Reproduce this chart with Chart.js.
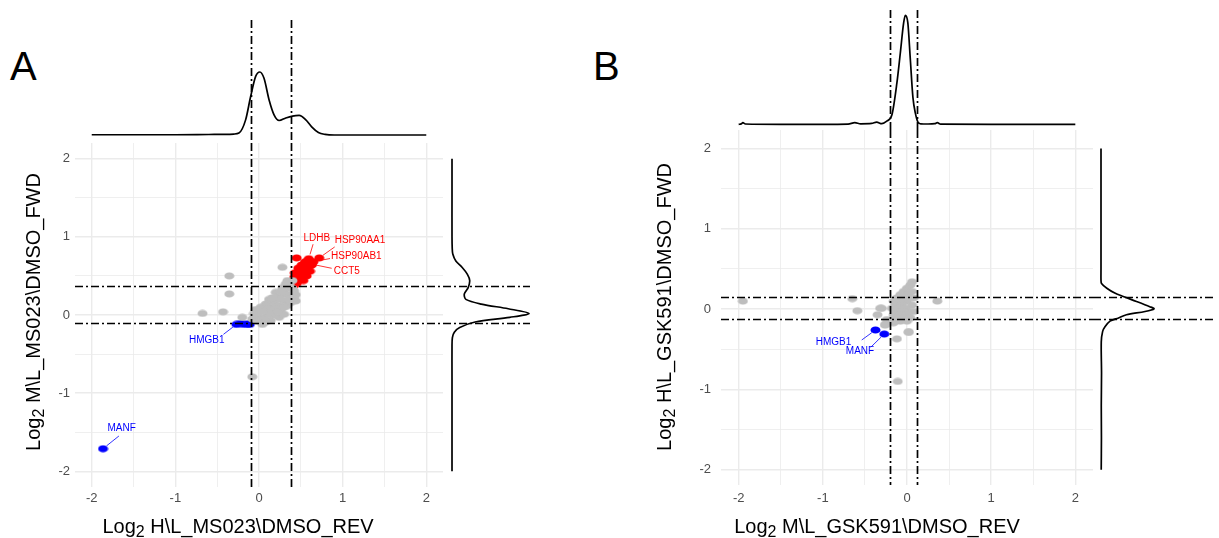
<!DOCTYPE html>
<html>
<head>
<meta charset="utf-8">
<script src="https://cdn.jsdelivr.net/npm/chart.js@4.4.1/dist/chart.umd.min.js"></script>
<style>
  html, body { margin: 0; padding: 0; background: #fff; }
  #fig { position: relative; width: 1219px; height: 538px; overflow: hidden; }
  #fig canvas { position: absolute; }
  .panel-tag { position: absolute; font: 40px "Liberation Sans", Arial, sans-serif; line-height: 1; color: #000; }
</style>
</head>
<body>
<div id="fig">
  <div class="panel-tag" style="left:10px; top:46px">A</div>
  <div class="panel-tag" style="left:593px; top:46px">B</div>
  <canvas id="scatA"></canvas>
  <canvas id="topA"></canvas>
  <canvas id="rightA"></canvas>
  <canvas id="scatB"></canvas>
  <canvas id="topB"></canvas>
  <canvas id="rightB"></canvas>
</div>
<script>
const FONT = '"Liberation Sans", Arial, Helvetica, sans-serif';
const DASH = [8, 3, 2, 3];

// shared axis steps (labels only on whole numbers)
const gridSteps = [-2, -1.5, -1, -0.5, 0, 0.5, 1, 1.5, 2];

// ---- MS023 ----
const ms023Gray = [
  [-0.675, 0.02], [-0.43, 0.04], [-0.355, 0.50], [-0.355, 0.27], [0.28, 0.61], [-0.2, -0.03], [-0.08, -0.79],
  [-0.08, -0.05], [-0.02, -0.01], [0.02, -0.07], [0.06, 0.06], [0.10, -0.01], [0.14, 0.10], [0.16, 0.03],
  [0.18, 0.16], [0.22, 0.22], [0.24, 0.12], [0.26, 0.06], [0.28, 0.27], [0.30, 0.18], [0.32, 0.33],
  [0.34, 0.12], [0.36, 0.39], [0.38, 0.25], [0.40, 0.44], [0.42, 0.31], [0.38, 0.16], [0.44, 0.18],
  [0.08, 0.14], [0.12, 0.20], [0.20, 0.29], [0.02, 0.10], [-0.04, 0.07], [0.04, -0.12], [0.14, -0.07],
  [0.24, -0.03], [0.30, 0.01], [0.28, 0.35], [0.34, 0.44], [0.0, 0.04], [0.10, 0.08], [0.20, 0.08],
  [0.26, 0.20], [0.34, 0.26], [0.42, 0.22], [-0.06, 0.02], [0.06, -0.04], [0.18, 0.0], [0.22, 0.04],
  [0.30, 0.10], [0.36, 0.20], [0.32, 0.40], [0.12, 0.02], [0.04, 0.04], [-0.02, -0.08], [0.08, -0.09],
  [0.20, 0.20], [0.16, 0.22], [0.26, 0.30], [0.40, 0.34], [0.44, 0.26]
];
const ms023Up = [
  [0.45, 0.73], [0.72, 0.73], [0.595, 0.72], [0.64, 0.68], [0.63, 0.65], [0.59, 0.70], [0.55, 0.68],
  [0.63, 0.64], [0.51, 0.64], [0.47, 0.60], [0.57, 0.60], [0.43, 0.54], [0.53, 0.54], [0.61, 0.56],
  [0.42, 0.48], [0.50, 0.48], [0.57, 0.50], [0.42, 0.41], [0.47, 0.44], [0.53, 0.44], [0.41, 0.37],
  [0.45, 0.52], [0.65, 0.68], [0.49, 0.56], [0.55, 0.62], [0.60, 0.62], [0.45, 0.40], [0.50, 0.58],
  [0.44, 0.47], [0.58, 0.66]
];
const ms023Down = [[-0.27, -0.12], [-0.22, -0.11], [-0.17, -0.12], [-0.13, -0.115], [-0.11, -0.12], [-1.865, -1.71]];
const ms023Tags = [
  { gene: 'LDHB', x: 0.595, y: 0.72, color: '#ff0000' },
  { gene: 'HSP90AA1', x: 0.72, y: 0.73, color: '#ff0000' },
  { gene: 'HSP90AB1', x: 0.64, y: 0.68, color: '#ff0000' },
  { gene: 'CCT5', x: 0.63, y: 0.65, color: '#ff0000' },
  { gene: 'HMGB1', x: -0.27, y: -0.12, color: '#0000ff' },
  { gene: 'MANF', x: -1.865, y: -1.71, color: '#0000ff' }
];
const ms023CutX = [-0.09, 0.385];
const ms023CutY = [-0.10, 0.365];
const ms023RevAt = [-2, -1.5, -1, -0.6, -0.4, -0.3, -0.24, -0.16, -0.10, -0.04, 0.01, 0.06, 0.12, 0.18,
  0.24, 0.32, 0.40, 0.48, 0.56, 0.63, 0.71, 0.79, 0.9, 1.2, 1.6, 2.0];
const ms023RevDens = [0.004, 0.004, 0.004, 0.008, 0.01, 0.015, 0.03, 0.24, 0.61, 0.93, 1.0, 0.90, 0.56, 0.32,
  0.23, 0.27, 0.30, 0.31, 0.24, 0.13, 0.04, 0.01, 0, 0, 0, 0];
const ms023FwdAt = [2, 1.5, 1.0, 0.85, 0.78, 0.69, 0.61, 0.52, 0.44, 0.35, 0.27, 0.20, 0.14, 0.08, 0.02,
  -0.03, -0.09, -0.16, -0.22, -0.29, -0.4, -0.8, -1.5, -2];
const ms023FwdDens = [0, 0, 0, 0.003, 0.01, 0.05, 0.13, 0.20, 0.23, 0.21, 0.16, 0.18, 0.38, 0.73, 1.0,
  0.75, 0.30, 0.10, 0.03, 0.005, 0, 0, 0, 0];

// ---- GSK591 ----
const gsk591Gray = [
  [-1.95, 0.10], [-0.65, 0.13], [-0.59, -0.02], [-0.35, -0.07], [-0.32, 0.01], [-0.26, -0.2], [-0.12, -0.37],
  [0.02, -0.29], [-0.11, -0.9], [0.36, 0.10],
  [0.06, 0.34], [0.04, 0.30], [0.00, 0.26], [-0.04, 0.22], [0.06, 0.22], [-0.08, 0.18], [0.02, 0.18],
  [0.08, 0.14], [-0.12, 0.14], [-0.04, 0.14], [-0.16, 0.10], [-0.08, 0.10], [0.00, 0.10], [0.06, 0.05],
  [-0.14, 0.05], [-0.06, 0.05], [-0.18, 0.01], [-0.10, 0.01], [-0.02, 0.01], [0.04, -0.03], [-0.14, -0.03],
  [-0.06, -0.03], [0.08, -0.03], [-0.16, -0.07], [-0.08, -0.07], [0.00, -0.07], [-0.12, -0.11], [-0.04, -0.11],
  [0.04, -0.11], [-0.16, -0.15], [-0.08, -0.15], [0.00, -0.15], [-0.30, 0.01], [-0.24, -0.13], [-0.26, -0.19],
  [-0.16, -0.17], [0.02, -0.28]
];
const gsk591Down = [[-0.375, -0.26], [-0.27, -0.31]];
const gsk591Tags = [
  { gene: 'HMGB1', x: -0.375, y: -0.26, color: '#0000ff' },
  { gene: 'MANF', x: -0.27, y: -0.31, color: '#0000ff' }
];
const gsk591CutX = [-0.2, 0.115];
const gsk591CutY = [-0.12, 0.15];
const gsk591RevAt = [-2.0, -1.97, -1.95, -1.92, -1.5, -1.0, -0.7, -0.62, -0.55, -0.42, -0.36, -0.30, -0.24,
  -0.18, -0.12, -0.08, -0.04, -0.02, 0.01, 0.04, 0.07, 0.10, 0.13, 0.16, 0.25, 0.33, 0.36, 0.40, 1.0, 1.5, 2.0];
const gsk591RevDens = [0, 0.004, 0.015, 0.003, 0, 0, 0.002, 0.015, 0.005, 0.008, 0.02, 0.006, 0.03,
  0.085, 0.38, 0.65, 0.93, 1.0, 0.93, 0.59, 0.25, 0.10, 0.02, 0.005, 0.003, 0.006, 0.015, 0.002, 0, 0, 0];
const gsk591FwdAt = [2, 1.5, 1.0, 0.5, 0.36, 0.32, 0.26, 0.20, 0.157, 0.095, 0.03, 0.004, -0.03, -0.07,
  -0.11, -0.15, -0.22, -0.28, -0.41, -0.8, -1.2, -1.6, -2];
const gsk591FwdDens = [0, 0, 0, 0, 0, 0.01, 0.11, 0.26, 0.42, 0.67, 0.92, 1.0, 0.83, 0.48,
  0.33, 0.17, 0.075, 0.03, 0.005, 0.01, 0.005, 0.008, 0.004];

// ---- layout (page pixels) ----
const frames = {
  scatA:  { left: 0,    top: 143, width: 443, height: 395, yAxisW: 75,  xAxisH: 51, yPad: 5,  xPad: 4 },
  topA:   { left: 75,   top: 20,  width: 368, height: 123 },
  rightA: { left: 443,  top: 143, width: 87,  height: 344 },
  scatB:  { left: 620,  top: 130, width: 473, height: 408, yAxisW: 101, xAxisH: 53, yPad: 10, xPad: 6 },
  topB:   { left: 721,  top: 10,  width: 372, height: 120 },
  rightB: { left: 1093, top: 130, width: 123, height: 355 }
};
const rangeA = { x: [-2.2, 2.2], y: [-2.2, 2.2] };
const rangeB = { x: [-2.21, 2.21], y: [-2.19, 2.23] };

// label placement relative to the tagged point: text anchor, alignment, segment end
const ms023TagPos = [
  { dx: 8, dy: -20.5, align: 'center', lx: 4.3, ly: -14.5 },
  { dx: 15.5, dy: -18, align: 'left', lx: 15.5, ly: -11 },
  { dx: 18.5, dy: -6, align: 'left', lx: 17.5, ly: -3.3 },
  { dx: 22, dy: 7.5, align: 'left', lx: 20, ly: 4.1 },
  { dx: -29.7, dy: 15.6, align: 'center', lx: -13, ly: 10 },
  { dx: 18.6, dy: -20.7, align: 'center', lx: 15.9, ly: -12.7 }
];
const gsk591TagPos = [
  { dx: -42, dy: 12.7, align: 'center', lx: -13.7, ly: 10 },
  { dx: -24.3, dy: 17.7, align: 'center', lx: -13.6, ly: 13.3 }
];

function placeCanvas(id) {
  const f = frames[id], c = document.getElementById(id);
  c.width = f.width; c.height = f.height;
  c.style.left = f.left + 'px'; c.style.top = f.top + 'px';
  return c;
}

function ellipseDot(color) {
  const c = document.createElement('canvas');
  c.width = 11; c.height = 8;
  const g = c.getContext('2d');
  g.fillStyle = color;
  g.beginPath();
  g.ellipse(5.5, 4, 5, 3.6, 0, 0, Math.PI * 2);
  g.fill();
  return c;
}
const dotGray = ellipseDot('#bebebe');
const dotRed = ellipseDot('#ff0000');
const dotBlue = ellipseDot('#0000ff');

const xy = pairs => pairs.map(([x, y]) => ({ x, y }));

function cutLines(vx, hy) {
  return {
    id: 'cutLines',
    afterDatasetsDraw(chart) {
      const { ctx, chartArea: a, scales } = chart;
      ctx.save();
      ctx.strokeStyle = '#000';
      ctx.lineWidth = 1.7;
      ctx.setLineDash(DASH);
      vx.forEach(v => {
        const px = Math.round(scales.x.getPixelForValue(v)) + 0.5;
        ctx.beginPath(); ctx.moveTo(px, a.top); ctx.lineTo(px, a.bottom); ctx.stroke();
      });
      hy.forEach(v => {
        const py = Math.round(scales.y.getPixelForValue(v)) + 0.5;
        ctx.beginPath(); ctx.moveTo(a.left, py); ctx.lineTo(a.right, py); ctx.stroke();
      });
      ctx.restore();
    }
  };
}

function geneTags(tags, pos) {
  return {
    id: 'geneTags',
    afterDraw(chart) {
      const { ctx, scales } = chart;
      ctx.save();
      ctx.font = '10px ' + FONT;
      ctx.textBaseline = 'middle';
      ctx.lineWidth = 0.8;
      tags.forEach((t, i) => {
        const p = pos[i];
        const px = scales.x.getPixelForValue(t.x), py = scales.y.getPixelForValue(t.y);
        const len = Math.hypot(p.lx, p.ly);
        ctx.strokeStyle = t.color;
        ctx.beginPath();
        ctx.moveTo(px + p.lx / len * 4.5, py + p.ly / len * 4.5);
        ctx.lineTo(px + p.lx, py + p.ly);
        ctx.stroke();
        ctx.fillStyle = t.color;
        ctx.textAlign = p.align;
        ctx.fillText(t.gene, px + p.dx, py + p.dy);
      });
      ctx.restore();
    }
  };
}

// "Log" + subscript 2 + rest
function drawLogTitle(ctx, text, cx, baseY, rotate) {
  const big = '20px ' + FONT, small = '16px ' + FONT;
  ctx.save();
  ctx.translate(cx, baseY);
  if (rotate) ctx.rotate(-Math.PI / 2);
  ctx.fillStyle = '#000';
  ctx.textBaseline = 'alphabetic';
  ctx.textAlign = 'left';
  ctx.font = big; const w1 = ctx.measureText('Log').width;
  ctx.font = small; const w2 = ctx.measureText('2').width;
  ctx.font = big; const w3 = ctx.measureText(text).width;
  let x = -(w1 + w2 + w3) / 2;
  ctx.fillText('Log', x, 0); x += w1;
  ctx.font = small; ctx.fillText('2', x, 4); x += w2;
  ctx.font = big; ctx.fillText(text, x, 0);
  ctx.restore();
}

function axisTitles(t) {
  return {
    id: 'axisTitles',
    afterDraw(chart) {
      const ctx = chart.ctx;
      drawLogTitle(ctx, t.x.text, t.x.cx, t.x.base, false);
      drawLogTitle(ctx, t.y.text, t.y.base, t.y.cy, true);
    }
  };
}

function gridAxis(range, f, isX) {
  return {
    type: 'linear',
    min: range[0], max: range[1],
    afterBuildTicks: s => { s.ticks = gridSteps.map(v => ({ value: v })); },
    afterFit: s => {
      if (isX) s.height = f.xAxisH; else s.width = f.yAxisW;
      // keep the plot area exactly where the frame puts it
      s.paddingTop = s.paddingBottom = s.paddingLeft = s.paddingRight = 0;
    },
    border: { display: false },
    grid: {
      color: '#ebebeb',
      lineWidth: c => (c.tick && Number.isInteger(c.tick.value)) ? 1.4 : 0.8,
      drawTicks: false
    },
    ticks: {
      autoSkip: false, maxRotation: 0,
      padding: isX ? f.xPad : f.yPad,
      color: '#4d4d4d',
      font: { family: FONT, size: 13 },
      callback: v => Number.isInteger(v) ? String(v) : ''
    }
  };
}

const baseOptions = {
  responsive: false, animation: false, events: [],
  layout: { padding: 0, autoPadding: false },
  plugins: { legend: { display: false }, tooltip: { enabled: false } }
};

function scatterPanel(id, range, series, tags, tagPos, cutX, cutY, titles) {
  const f = frames[id];
  new Chart(placeCanvas(id), {
    type: 'scatter',
    data: {
      datasets: series.map(s => ({ data: xy(s.points), pointStyle: s.dot, pointRadius: 5 }))
    },
    options: {
      ...baseOptions,
      scales: { x: gridAxis(range.x, f, true), y: gridAxis(range.y, f, false) }
    },
    plugins: [cutLines(cutX, cutY), geneTags(tags, tagPos), axisTitles(titles)]
  });
}

function densityPanel(id, at, dens, vertical, posRange, densRange, cuts) {
  const pts = at.map((p, i) => vertical ? { x: dens[i], y: p } : { x: p, y: dens[i] });
  new Chart(placeCanvas(id), {
    type: 'scatter',
    data: {
      datasets: [{
        data: pts, showLine: true, pointRadius: 0,
        borderColor: '#000', borderWidth: 1.7, fill: false,
        cubicInterpolationMode: vertical ? 'default' : 'monotone',
        tension: vertical ? 0.3 : 0
      }]
    },
    options: {
      ...baseOptions,
      scales: {
        x: { display: false, min: vertical ? densRange[0] : posRange[0], max: vertical ? densRange[1] : posRange[1] },
        y: { display: false, min: vertical ? posRange[0] : densRange[0], max: vertical ? posRange[1] : densRange[1] }
      }
    },
    plugins: [vertical ? cutLines([], cuts) : cutLines(cuts, [])]
  });
}

scatterPanel('scatA', rangeA,
  [{ points: ms023Gray, dot: dotGray }, { points: ms023Up, dot: dotRed }, { points: ms023Down, dot: dotBlue }],
  ms023Tags, ms023TagPos, ms023CutX, ms023CutY,
  { x: { text: ' H\\L_MS023\\DMSO_REV', cx: 238, base: 390 },
    y: { text: ' M\\L_MS023\\DMSO_FWD', base: 40, cy: 169 } });
densityPanel('topA', ms023RevAt, ms023RevDens, false, rangeA.x, [-0.127, 1.825], ms023CutX);
densityPanel('rightA', ms023FwdAt, ms023FwdDens, true, rangeA.y, [-0.117, 1.013], ms023CutY);

scatterPanel('scatB', rangeB,
  [{ points: gsk591Gray, dot: dotGray }, { points: gsk591Down, dot: dotBlue }],
  gsk591Tags, gsk591TagPos, gsk591CutX, gsk591CutY,
  { x: { text: ' M\\L_GSK591\\DMSO_REV', cx: 257, base: 403 },
    y: { text: ' H\\L_GSK591\\DMSO_FWD', base: 51, cy: 177 } });
densityPanel('topB', gsk591RevAt, gsk591RevDens, false, rangeB.x, [-0.052, 1.049], gsk591CutX);
densityPanel('rightB', gsk591FwdAt, gsk591FwdDens, true, rangeB.y, [-0.151, 2.17], gsk591CutY);
</script>
</body>
</html>
